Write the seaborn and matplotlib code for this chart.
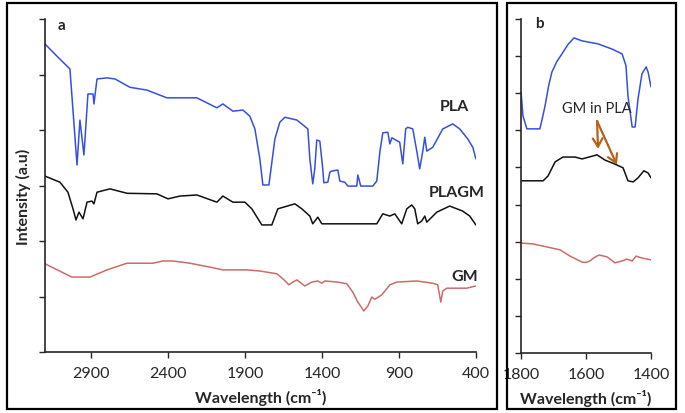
import numpy as np
import pandas as pd
import seaborn as sns
import matplotlib
import matplotlib.pyplot as plt
from matplotlib.patches import Rectangle

matplotlib.use("Agg")

# panel a: full spectra (wavenumber, intensity a.u.)
pla_wn = [3200, 3122, 3038, 2992, 2973, 2947, 2921, 2888, 2882, 2862, 2797, 2745, 2648, 2538, 2408,
          2213, 2083, 2044, 1979, 1914, 1869, 1836, 1804, 1784, 1745, 1706, 1674, 1641, 1563,
          1492, 1479, 1460, 1447, 1434, 1414, 1395, 1388, 1362, 1349, 1336, 1297, 1284, 1252,
          1232, 1174, 1167, 1148, 1070, 1044, 1024, 1005, 972, 959, 946, 908, 895, 875, 856,
          843, 810, 784, 765, 745, 732, 719, 680, 615, 550, 505, 453, 420, 400]
pla_int = [5.55, 5.33, 5.10, 3.37, 4.18, 3.55, 4.65, 4.65, 4.47, 4.92, 4.94, 4.92, 4.77, 4.72, 4.58,
           4.58, 4.40, 4.47, 4.34, 4.36, 4.25, 4.02, 3.48, 3.01, 3.01, 3.84, 4.14, 4.23, 4.18,
           4.02, 3.48, 3.03, 3.30, 3.82, 3.80, 3.30, 3.05, 3.06, 3.24, 3.26, 3.28, 3.08, 3.06,
           2.99, 2.99, 3.19, 2.99, 2.99, 3.08, 3.60, 3.95, 3.96, 3.75, 3.86, 3.80, 3.78, 3.39,
           4.02, 4.05, 4.02, 3.62, 3.30, 3.62, 3.87, 3.62, 3.69, 4.02, 4.11, 4.02, 3.84, 3.69, 3.48]

plagm_wn = [3200, 3103, 3051, 3018, 2999, 2979, 2953, 2927, 2895, 2882, 2862, 2778, 2667, 2473,
            2401, 2323, 2213, 2083, 2044, 1979, 1901, 1856, 1791, 1726, 1687, 1576, 1531, 1479,
            1460, 1427, 1401, 1330, 1044, 1005, 959, 927, 882, 849, 817, 797, 778, 752, 732,
            719, 654, 570, 486, 440, 400]
plagm_int = [3.17, 3.06, 2.88, 2.58, 2.38, 2.52, 2.40, 2.70, 2.72, 2.67, 2.88, 2.94, 2.86, 2.85,
             2.76, 2.81, 2.83, 2.70, 2.81, 2.70, 2.70, 2.58, 2.29, 2.29, 2.58, 2.67, 2.58, 2.45,
             2.31, 2.43, 2.31, 2.31, 2.31, 2.49, 2.45, 2.49, 2.31, 2.58, 2.65, 2.58, 2.31, 2.36,
             2.45, 2.34, 2.52, 2.63, 2.54, 2.45, 2.29]

gm_wn = [3200, 3025, 2908, 2797, 2667, 2499, 2434, 2369, 2258, 2128, 2044, 1888, 1804, 1693,
         1654, 1615, 1589, 1563, 1544, 1512, 1466, 1427, 1401, 1382, 1297, 1239, 1200, 1167,
         1128, 1102, 1076, 1057, 1011, 959, 914, 784, 680, 648, 628, 615, 589, 460, 400]
gm_int = [1.59, 1.35, 1.35, 1.48, 1.60, 1.60, 1.64, 1.64, 1.60, 1.53, 1.48, 1.48, 1.46, 1.41,
          1.32, 1.21, 1.26, 1.30, 1.26, 1.19, 1.26, 1.28, 1.24, 1.28, 1.26, 1.23, 1.08, 0.90,
          0.74, 0.83, 0.99, 0.95, 1.03, 1.21, 1.26, 1.28, 1.24, 1.21, 0.90, 1.10, 1.15, 1.15, 1.19]

# panel b: zoom 1800-1400
b_pla_wn = [1800, 1794, 1782, 1742, 1735, 1726, 1715, 1705, 1690, 1674, 1655, 1637, 1612, 1563,
            1520, 1489, 1477, 1471, 1458, 1449, 1440, 1428, 1415, 1409, 1400]
b_pla_int = [7.04, 6.39, 6.04, 6.04, 6.30, 6.66, 7.20, 7.57, 7.85, 8.06, 8.32, 8.49, 8.41, 8.33,
             8.19, 8.06, 7.74, 6.93, 6.09, 6.09, 6.85, 7.52, 7.71, 7.57, 7.17]
b_plagm_wn = [1800, 1732, 1717, 1695, 1671, 1634, 1612, 1566, 1542, 1511, 1486, 1471, 1455, 1440,
              1422, 1409, 1400]
b_plagm_int = [4.64, 4.64, 4.77, 5.15, 5.28, 5.28, 5.23, 5.34, 5.20, 5.09, 4.99, 4.64, 4.61, 4.72,
               4.91, 4.85, 4.72]
b_gm_wn = [1797, 1763, 1680, 1649, 1612, 1600, 1588, 1575, 1560, 1535, 1511, 1489, 1474, 1458,
           1446, 1428, 1400]
b_gm_int = [2.96, 2.94, 2.78, 2.61, 2.45, 2.44, 2.48, 2.57, 2.64, 2.59, 2.43, 2.48, 2.53, 2.48,
            2.61, 2.56, 2.51]

blue = "#3550de"
black = "#111111"
red = "#cc6b6b"
brown = "#b5621b"

sns.set_style("ticks")
plt.rcParams['font.family'] = ['Lato', 'DejaVu Sans']

fig = plt.figure(figsize=(6.85, 4.14), dpi=100)
ax1 = fig.add_axes([0.0657, 0.1473, 0.629, 0.8043])
ax2 = fig.add_axes([0.7606, 0.1449, 0.1898, 0.8068])

# outer frames around each panel
fig.add_artist(Rectangle((0.0102, 0.0097), 0.7153, 0.9807, transform=fig.transFigure,
                         fill=False, ec="black", lw=1.6))
fig.add_artist(Rectangle((0.7401, 0.0097), 0.2467, 0.9807, transform=fig.transFigure,
                         fill=False, ec="black", lw=1.6))

for wn, it, c in [(pla_wn, pla_int, blue), (plagm_wn, plagm_int, black), (gm_wn, gm_int, red)]:
    df = pd.DataFrame({"wn": wn, "I": it})
    sns.lineplot(data=df, x="wn", y="I", ax=ax1, color=c, lw=1.1, estimator=None, errorbar=None)

for wn, it, c in [(b_pla_wn, b_pla_int, blue), (b_plagm_wn, b_plagm_int, black),
                  (b_gm_wn, b_gm_int, red)]:
    df = pd.DataFrame({"wn": wn, "I": it})
    sns.lineplot(data=df, x="wn", y="I", ax=ax2, color=c, lw=1.1, estimator=None, errorbar=None)

ax1.set_xlim(3200, 400)
ax1.set_ylim(0, 6)
ax1.set_xticks([2900, 2400, 1900, 1400, 900, 400])
ax1.set_yticks(range(7))
ax2.set_xlim(1800, 1400)
ax2.set_ylim(0, 9)
ax2.set_xticks([1800, 1600, 1400])
ax2.set_yticks(range(10))

for ax in (ax1, ax2):
    sns.despine(ax=ax)
    ax.set_yticklabels([])
    ax.tick_params(axis="both", labelsize=11.5, length=4, width=1, pad=6)
    ax.spines["left"].set_linewidth(1.2)
    ax.spines["bottom"].set_linewidth(1.2)
    ax.set_xlabel("Wavelength (cm⁻¹)", fontsize=11.5, fontweight="bold", labelpad=6)
    ax.set_ylabel("")

ax1.set_ylabel("Intensity (a.u)", fontsize=11.5, fontweight="bold")
ax1.yaxis.set_label_coords(-0.033, 0.47)

ax1.text(3090, 5.89, "a", fontsize=11, fontweight="bold", ha="center", va="center")
ax1.text(537, 4.43, "PLA", fontsize=11.5, fontweight="bold", ha="center", va="center")
ax1.text(524, 2.88, "PLAGM", fontsize=11.5, fontweight="bold", ha="center", va="center")
ax1.text(473, 1.37, "GM", fontsize=11.5, fontweight="bold", ha="center", va="center")

ax2.text(1742, 8.89, "b", fontsize=11, fontweight="bold", ha="center", va="center")
ax2.text(1566, 6.6, "GM in PLA", fontsize=10.5, ha="center", va="center")
for tip in [(1563, 5.50), (1505, 5.07)]:
    ax2.annotate("", xy=tip, xytext=(1566, 6.25),
                 arrowprops=dict(arrowstyle="->,head_length=0.6,head_width=0.35",
                                 color=brown, lw=1.6, shrinkA=0, shrinkB=0))

fig.savefig("out.png", dpi=100)
